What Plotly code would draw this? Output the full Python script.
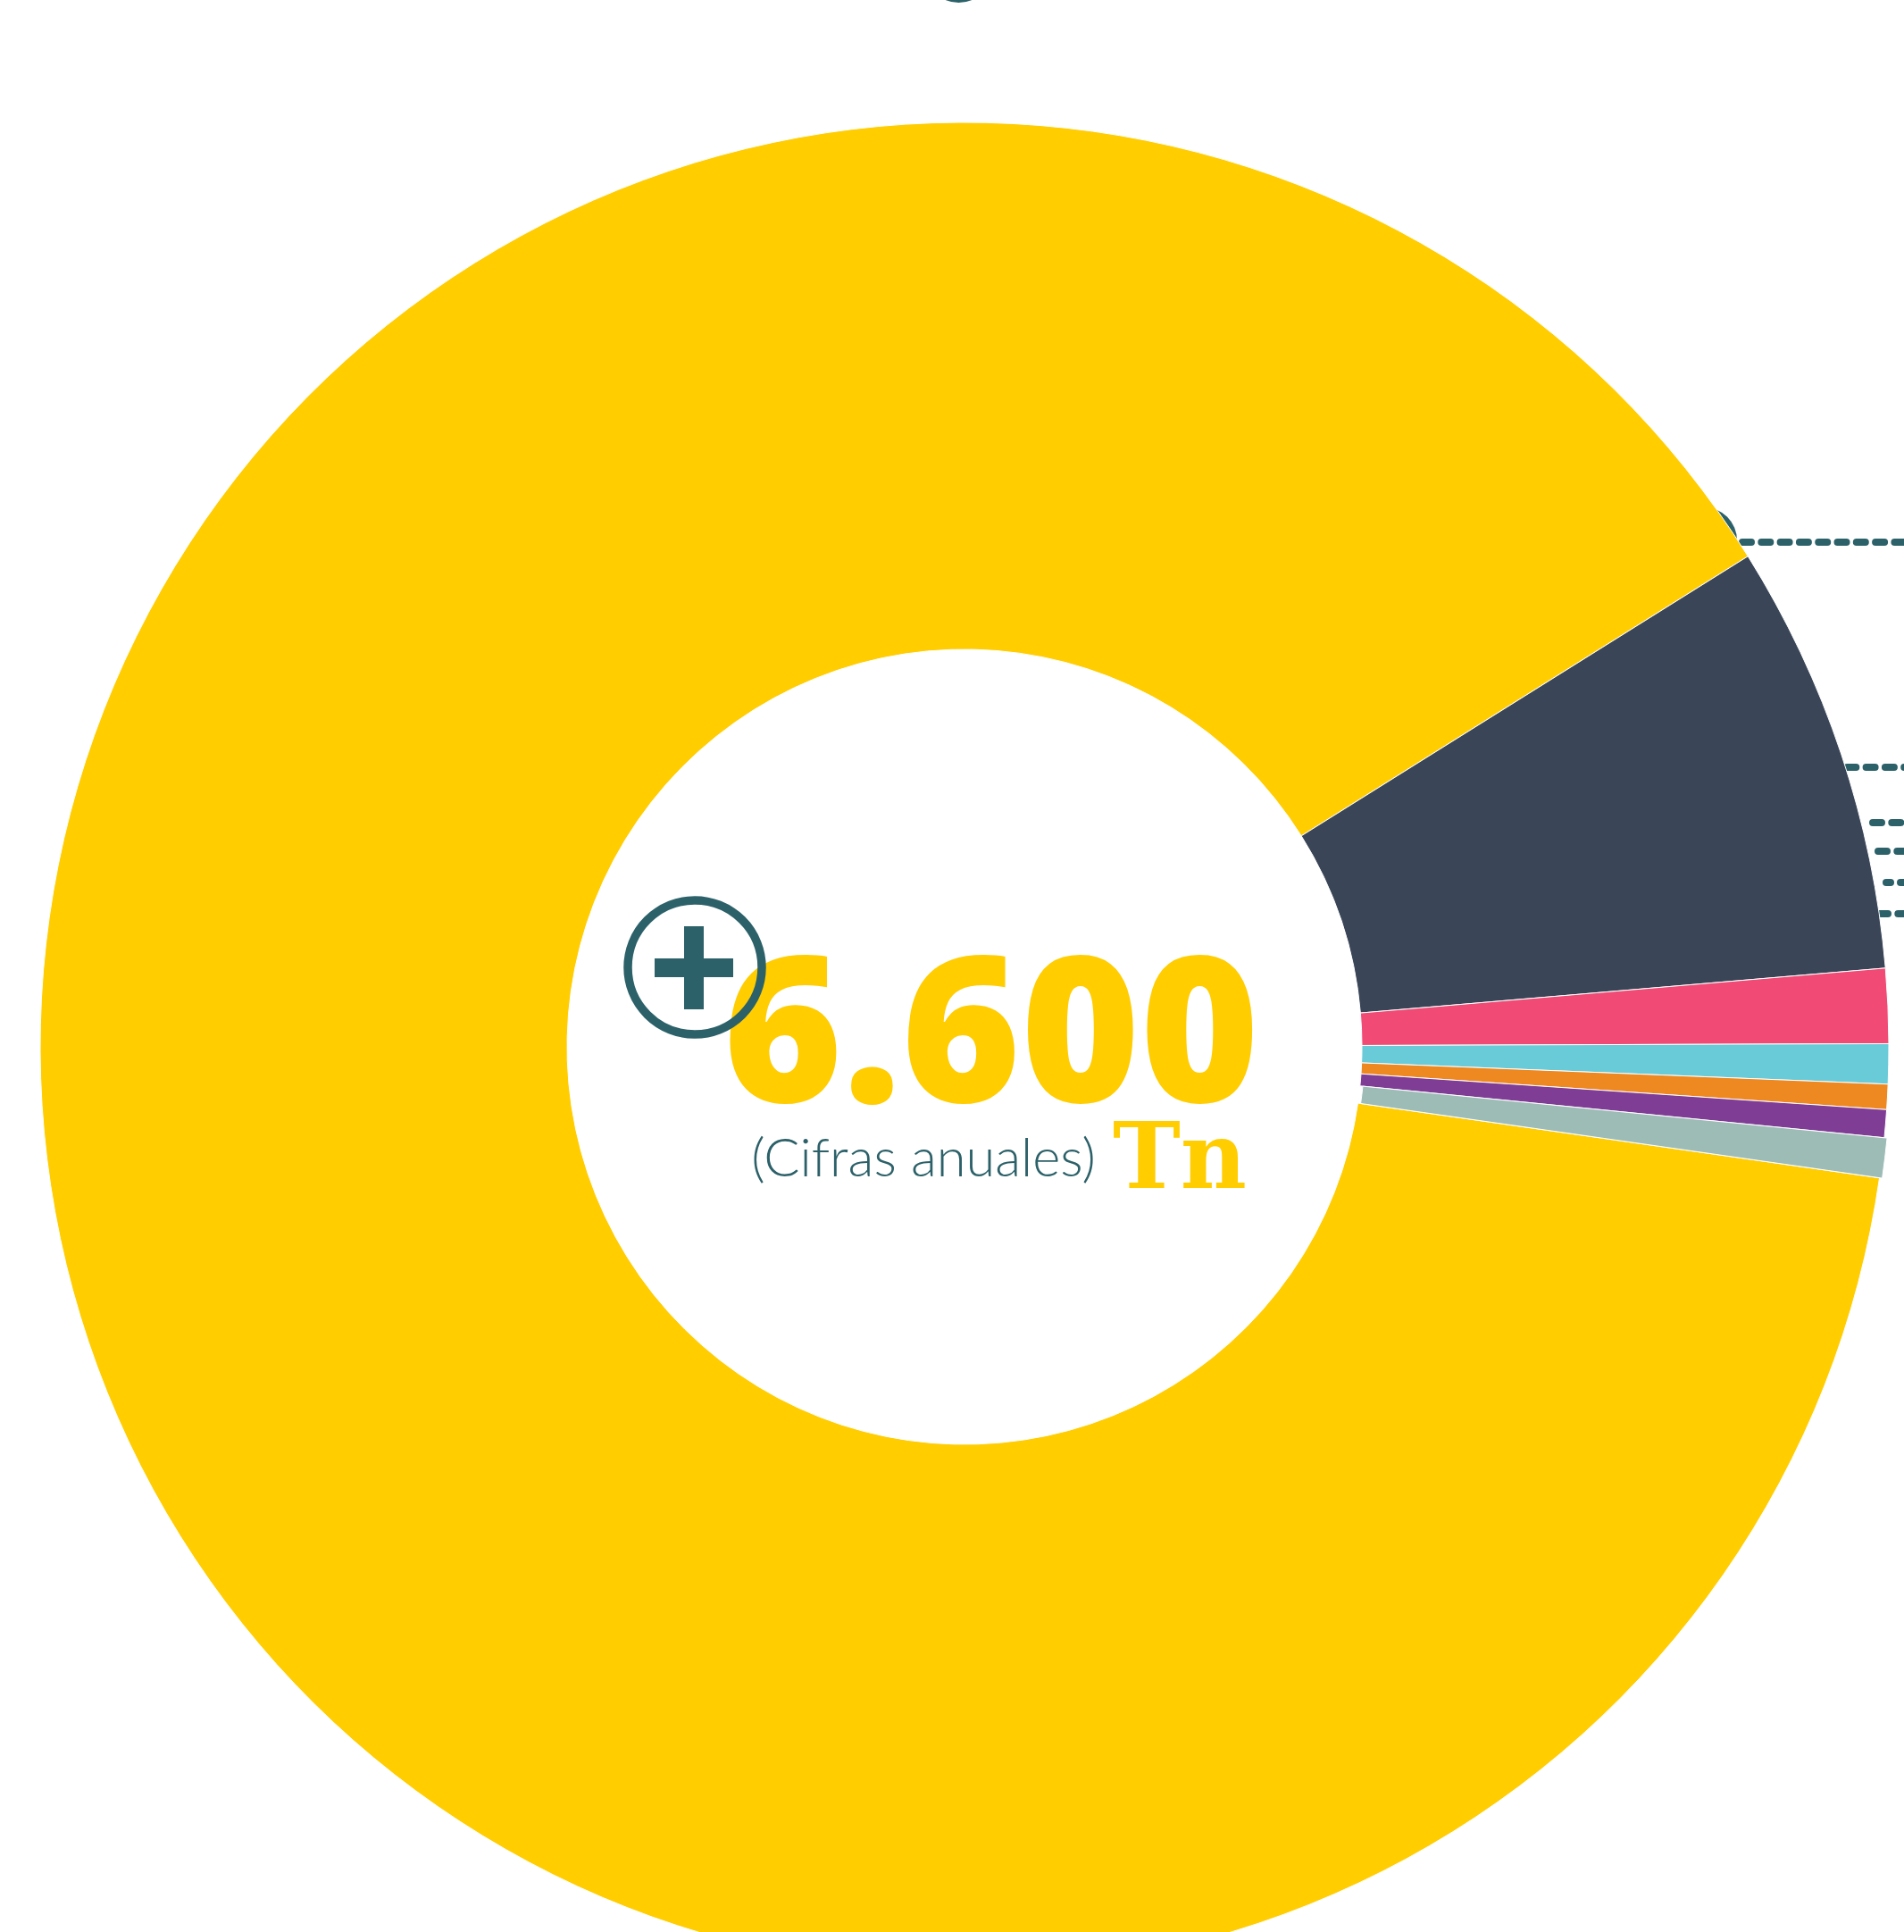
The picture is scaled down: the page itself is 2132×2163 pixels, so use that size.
import plotly.graph_objects as go

# Data
categories = ["Segmento A", "Segmento B", "Segmento C", "Segmento D", "Segmento E", "Segmento F", "Segmento G"]
values = [5863, 498, 86, 46, 29, 32, 46]
colors = ["#FFCD00", "#3A4658", "#F04A75", "#69CBD8", "#EE8820", "#803D96", "#9DBCB6"]
pulls = [0, 0, 0, 0, 0, 0, 0.003]
total_label = "6.600"
unit_label = "Tn"
note_label = "(Cifras anuales)"

TEAL = "#2C6169"
YELLOW = "#FFCD00"
W, H = 2132, 2300
CX, CY, R = 1080, 1172, 1035
Rd = R * 1.003


def px(x):
    return x / W


def py(y):
    return 1 - y / H


fig = go.Figure()

fig.add_trace(go.Pie(
    labels=categories, values=values, sort=False, direction="clockwise",
    rotation=98.15, hole=445 / 1035, pull=pulls,
    marker=dict(colors=colors, line=dict(color="#FFFFFF", width=1)),
    textinfo="none", showlegend=False, hoverinfo="label+value",
    domain=dict(x=[px(CX - Rd), px(CX + Rd)], y=[py(CY + Rd), py(CY - Rd)]),
))


def label(text, x, y, **font):
    fig.add_trace(go.Scatter(x=[x], y=[y], mode="text", text=[text], textposition="middle center",
                             textfont=font, showlegend=False, hoverinfo="skip", cliponaxis=False))


label(total_label, 1110, 1177, family="Open Sans", size=228, color=YELLOW, weight=800)
label(note_label, 1034, 1302, family="Lato", size=59.6, color=TEAL, weight=300)
label(unit_label, 1321, 1304, family="DejaVu Serif", size=102, color=YELLOW, weight=700)

shapes = []


def circle(cx, cy, r, **kw):
    shapes.append(dict(type="circle", xref="paper", yref="paper",
                       x0=px(cx - r), x1=px(cx + r), y0=py(cy + r), y1=py(cy - r), **kw))


def leader(x0, y, x1=W + 20, dash="10px,11.3px"):
    shapes.append(dict(type="line", xref="paper", yref="paper", layer="below",
                       x0=px(x0), x1=px(x1), y0=py(y), y1=py(y),
                       line=dict(color=TEAL, width=8, dash=dash)))


circle(1908, 605, 37, layer="below", fillcolor=TEAL, line=dict(width=0))
circle(1073.5, -34, 37, layer="below", fillcolor=TEAL, line=dict(width=0))
leader(1951, 607)
leader(2047, 859)
leader(2097, 921)
leader(2103, 953)
leader(2112, 988, 2117, dash="solid")
leader(2128, 988)
leader(2104, 1023)

# "+" icon
circle(778, 1083, 75, layer="above", fillcolor="rgba(0,0,0,0)", line=dict(color=TEAL, width=9.5))
for x0, x1, y0, y1 in [(733, 821, 1073, 1094), (766, 788, 1037, 1130)]:
    shapes.append(dict(type="rect", xref="paper", yref="paper", layer="above",
                       x0=px(x0), x1=px(x1), y0=py(y1), y1=py(y0),
                       fillcolor=TEAL, line=dict(width=0)))

hidden = dict(visible=False, showgrid=False, zeroline=False, fixedrange=True)
fig.update_layout(
    width=W, height=H, margin=dict(l=0, r=0, t=0, b=0, pad=0),
    paper_bgcolor="#FFFFFF", plot_bgcolor="rgba(0,0,0,0)",
    xaxis=dict(range=[0, W], **hidden),
    yaxis=dict(range=[H, 0], **hidden),
    shapes=shapes,
)

post = """
document.documentElement.style.overflow='hidden';
document.body.style.margin='0';
document.body.style.overflow='hidden';
document.querySelectorAll('.shapelayer path').forEach(function(p){p.style.strokeLinecap='round';});
"""
fig.write_html("out.html", post_script=post, config=dict(displayModeBar=False))
